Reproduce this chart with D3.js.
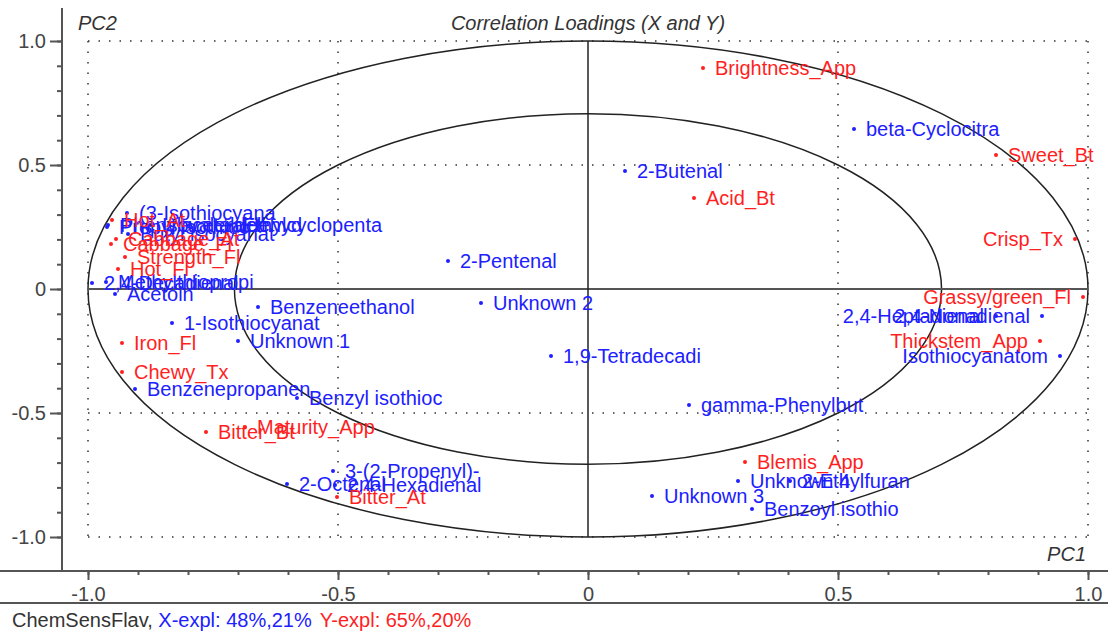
<!DOCTYPE html>
<html>
<head>
<meta charset="utf-8">
<script src="https://cdn.jsdelivr.net/npm/d3@7"></script>
<style>
body { margin: 0; background: #fff; }
text { font-family: "Liberation Sans", Arial, sans-serif; }
</style>
</head>
<body>
<svg id="chart" width="1108" height="633"></svg>
<script>
// Y variables (sensory) - red
var sensNames = ["Brightness_App", "Sweet_Bt", "Acid_Bt", "Crisp_Tx", "Grassy/green_Fl", "Thickstem_App",
    "Blemis_App", "Bitter_At", "Maturity_App", "Bitter_Bt", "Chewy_Tx", "Iron_Fl", "Hot_Fl",
    "Strength_Fl", "Cabbage_Fl", "Cabbage_At", "Hot_At"];
var sensPC1 = [0.23, 0.816, 0.212, 0.974, 0.99, 0.904, 0.314, -0.502, -0.686, -0.764, -0.932, -0.932, -0.94,
    -0.926, -0.954, -0.944, -0.952];
var sensPC2 = [0.891, 0.54, 0.367, 0.202, -0.032, -0.21, -0.698, -0.839, -0.556, -0.577, -0.335, -0.218, 0.081,
    0.129, 0.181, 0.202, 0.278];

// X variables (chemicals) - blue
var chemNames = ["beta-Cyclocitra", "2-Butenal", "2-Pentenal", "Unknown 2", "Benzeneethanol", "1-Isothiocyanat",
    "Unknown 1", "1,9-Tetradecadi", "Benzenepropanen", "Benzyl isothioc", "gamma-Phenylbut", "3-(2-Propenyl)-",
    "2-Octenal", "2,4-Hexadienal", "Unknown 4", "2-Ethylfuran", "Unknown 3", "Benzoyl isothio",
    "2,4-Heptadienal", "2,4-Nonadienal", "Isothiocyanatom", "Acetoin", "2,4-Decadienal", "Methylthiopropi",
    "(3-Isothiocyana", "Phenylacetaldeh", "Propyl isothioc", "Isovaleraldehyd", "Ethylcyclopenta", "Butyl isocyanat"];
var chemPC1 = [0.532, 0.074, -0.28, -0.214, -0.66, -0.832, -0.70, -0.074, -0.906, -0.582, 0.202, -0.51,
    -0.602, -0.506, 0.30, 0.404, 0.128, 0.328, 0.816, 0.908, 0.944, -0.946, -0.992, -0.964,
    -0.922, -0.96, -0.962, -0.876, -0.716, -0.92];
var chemPC2 = [0.645, 0.476, 0.113, -0.056, -0.073, -0.137, -0.21, -0.27, -0.403, -0.44, -0.468, -0.734,
    -0.786, -0.79, -0.774, -0.774, -0.835, -0.887, -0.109, -0.109, -0.27, -0.02, 0.024, 0.028,
    0.306, 0.258, 0.25, 0.258, 0.258, 0.222];

var majorTicks = [-1, -0.5, 0, 0.5, 1];
var tickLabels = ["-1.0", "-0.5", "0", "0.5", "1.0"];
var minorTicks = d3.range(-10, 11).map(d => d / 10);

var RED = "#ff1f1f", BLUE = "#2020ff", GREY = "#555";

var svg = d3.select("#chart");
var x = d3.scaleLinear().domain([-1, 1]).range([88, 1088]);
var y = d3.scaleLinear().domain([-1, 1]).range([537, 41]);

// cadre
svg.append("line").attr("x1", 62).attr("x2", 62).attr("y1", 8).attr("y2", 571)
    .attr("stroke", GREY).attr("stroke-width", 2);
svg.append("line").attr("x1", 0).attr("x2", 1108).attr("y1", 571).attr("y2", 571)
    .attr("stroke", GREY).attr("stroke-width", 2);
svg.append("line").attr("x1", 0).attr("x2", 1108).attr("y1", 603).attr("y2", 603)
    .attr("stroke", GREY).attr("stroke-width", 2);

// axes
var gx = svg.append("g").attr("transform", "translate(0,571)");
gx.append("g").call(d3.axisBottom(x).tickValues(minorTicks).tickSize(4).tickFormat(""));
gx.append("g").call(d3.axisBottom(x).tickValues(majorTicks).tickSize(9).tickPadding(7)
    .tickFormat((d, i) => tickLabels[i]));

var gy = svg.append("g").attr("transform", "translate(62,0)");
gy.append("g").call(d3.axisLeft(y).tickValues(minorTicks).tickSize(5).tickFormat(""));
gy.append("g").call(d3.axisLeft(y).tickValues(majorTicks).tickSize(12).tickPadding(4)
    .tickFormat((d, i) => tickLabels[i]));

svg.selectAll(".domain").remove();
svg.selectAll(".tick line").attr("stroke", GREY).attr("stroke-width", 2);
svg.selectAll(".tick text").attr("font-size", 20).attr("fill", "#444")
    .attr("font-family", "Liberation Sans, Arial, sans-serif");

// grille pointillée
var gridVals = [-1, -0.5, 0.5, 1];
svg.append("g").selectAll("line").data(gridVals).enter().append("line")
    .attr("x1", d => x(d)).attr("x2", d => x(d)).attr("y1", y(1)).attr("y2", y(-1))
    .attr("stroke", "#333").attr("stroke-width", 1.5).attr("stroke-dasharray", "1.5,9");
svg.append("g").selectAll("line").data(gridVals).enter().append("line")
    .attr("y1", d => y(d)).attr("y2", d => y(d)).attr("x1", x(-1)).attr("x2", x(1))
    .attr("stroke", "#333").attr("stroke-width", 1.5).attr("stroke-dasharray", "1.5,9");

// ellipses 100% et 50%
[1, Math.sqrt(0.5)].forEach(r => {
    svg.append("ellipse")
        .attr("cx", x(0)).attr("cy", y(0))
        .attr("rx", x(r) - x(0)).attr("ry", y(0) - y(r))
        .attr("fill", "none").attr("stroke", "#222").attr("stroke-width", 1.5);
});

// axes zéro
svg.append("line").attr("x1", x(-1)).attr("x2", x(1)).attr("y1", y(0)).attr("y2", y(0))
    .attr("stroke", GREY).attr("stroke-width", 2);
svg.append("line").attr("x1", x(0)).attr("x2", x(0)).attr("y1", y(1)).attr("y2", y(-1))
    .attr("stroke", "#222").attr("stroke-width", 1.5);

// titres
svg.append("text").attr("x", 78).attr("y", 30).text("PC2")
    .attr("font-size", 20).attr("font-style", "italic").attr("fill", "#333");
svg.append("text").attr("x", x(0)).attr("y", 30).attr("text-anchor", "middle")
    .text("Correlation Loadings (X and Y)")
    .attr("font-size", 20).attr("font-style", "italic").attr("fill", "#333");
svg.append("text").attr("x", 1086).attr("y", 561).attr("text-anchor", "end").text("PC1")
    .attr("font-size", 20).attr("font-style", "italic").attr("fill", "#333");

// points + étiquettes
function drawSet(names, pc1, pc2, color) {
    var g = svg.append("g");
    names.forEach((name, i) => {
        var px = x(pc1[i]), py = y(pc2[i]);
        g.append("circle").attr("cx", px).attr("cy", py).attr("r", 2).attr("fill", color);
        var t = g.append("text").attr("x", px + 12).attr("y", py).attr("dy", "0.35em")
            .attr("font-size", 20).attr("fill", color).text(name);
        var w = t.node().getComputedTextLength();
        if (px + 12 + w > 1100) {
            t.attr("x", px - 12).attr("text-anchor", "end");
        }
    });
}
drawSet(chemNames, chemPC1, chemPC2, BLUE);
drawSet(sensNames, sensPC1, sensPC2, RED);

// légende du bas
var cap = svg.append("text").attr("x", 12).attr("y", 627).attr("font-size", 20);
cap.append("tspan").attr("fill", "#333").text("ChemSensFlav, ");
cap.append("tspan").attr("fill", BLUE).text("X-expl: 48%,21%");
cap.append("tspan").attr("fill", RED).attr("dx", 8).text("Y-expl: 65%,20%");
</script>
</body>
</html>
